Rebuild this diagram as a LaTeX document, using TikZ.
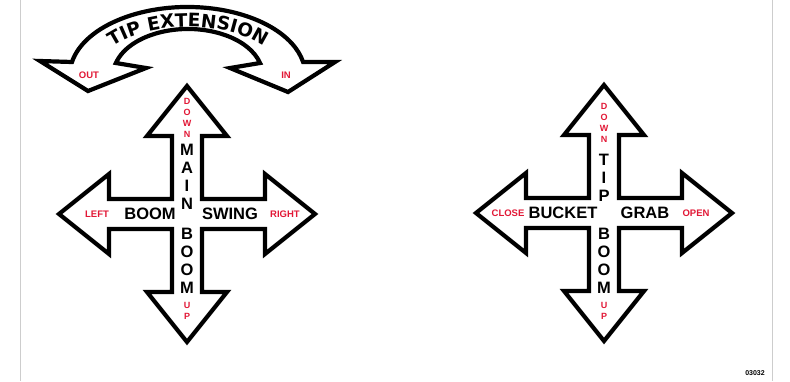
\documentclass[tikz,border=0pt]{standalone}
\usepackage{fontspec}
\setmainfont{Liberation Sans}
\newfontfamily\arcfont{DejaVu Sans}
\usetikzlibrary{decorations.text}
\definecolor{signred}{RGB}{226,24,54}
\definecolor{edgegrey}{RGB}{205,205,205}
\newcommand{\crosspath}[1]{%
  \draw[crossline,shift={#1}]
    (15,-78) -- (40,-78) -- (0,-128) -- (-40,-78) -- (-15,-78) -- (-15,-15)
    -- (-78,-15) -- (-78,-40) -- (-128,0) -- (-78,40) -- (-78,15) -- (-15,15)
    -- (-15,78) -- (-40,78) -- (0,128) -- (40,78) -- (15,78) -- (15,15)
    -- (78,15) -- (78,40) -- (128,0) -- (78,-40) -- (78,-15) -- (15,-15) -- cycle;}
\begin{document}
\begin{tikzpicture}[x=1pt,y=-1pt,
  crossline/.style={draw=black,line width=4.2pt,line join=miter,fill=white},
  big/.style={inner sep=0pt,font=\fontsize{16.5}{18}\selectfont\bfseries,text=black},
  bigstack/.style={big,align=center},
  small/.style={inner sep=0pt,font=\fontsize{9.5}{11}\selectfont\bfseries,text=signred},
  smallstack/.style={small,align=center,font=\fontsize{9}{11}\selectfont\bfseries}]
\useasboundingbox (0,0) rectangle (790,381);
\fill[white] (0,0) rectangle (790,381);
\draw[edgegrey,line width=1pt] (20,0) -- (20,381);
\draw[edgegrey,line width=1pt] (772,0) -- (772,381);

% curved tip extension arrow
\draw[crossline]
  (72,62) arc[start angle=191,end angle=349,x radius=117.7,y radius=68]
  -- (335,62) -- (288,92) -- (230,68) -- (260,63)
  arc[start angle=344.9,end angle=195.1,x radius=74.6,y radius=46]
  -- (146,68) -- (88,91) -- (40,61) -- cycle;
\path[decorate,decoration={text along path,text align=center,
  text={|\arcfont\fontsize{18.5}{18.5}\selectfont\bfseries|TIP EXTENSION}}]
  (94,75) arc[start angle=180,end angle=360,x radius=94,y radius=48];
\node[small] (out) at (89,75) {OUT};
\node[small] (in) at (286,75) {IN};

% left cross
\crosspath{(187,214)}
\node[small] (left) at (97,214) {LEFT};
\node[big] (boomh) at (150,214) {BOOM};
\node[big] (swing) at (230,214) {SWING};
\node[small] (right) at (285,214) {RIGHT};
\node[smallstack] (downl) at (187,117.5) {D\\O\\W\\N};
\node[bigstack] (main) at (187,176.5) {M\\A\\I\\N};
\node[bigstack] (boomv) at (187,260.5) {B\\O\\O\\M};
\node[smallstack] (upl) at (187,311) {U\\P};

% right cross
\crosspath{(604,213)}
\node[small] (close) at (508,213) {CLOSE};
\node[big] (bucket) at (563,213) {BUCKET};
\node[big] (grab) at (645,213) {GRAB};
\node[small] (open) at (696,213) {OPEN};
\node[smallstack] (downr) at (604,123) {D\\O\\W\\N};
\node[bigstack] (tip) at (604,177.5) {T\\I\\P};
\node[bigstack] (boomr) at (604,260.5) {B\\O\\O\\M};
\node[smallstack] (upr) at (604,311) {U\\P};

\node[inner sep=0pt,font=\fontsize{7}{8}\selectfont\bfseries] (code) at (755,373) {03032};
\end{tikzpicture}
\end{document}
